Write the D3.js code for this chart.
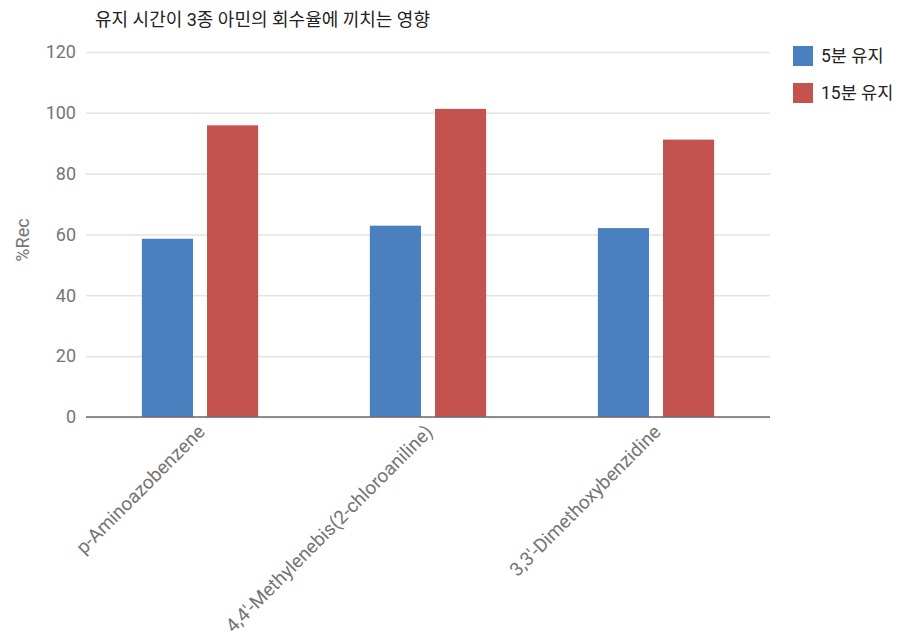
<!DOCTYPE html>
<html>
<head>
<meta charset="utf-8">
<script src="https://cdn.jsdelivr.net/npm/d3@7"></script>
<style>
  body { margin: 0; background: #fff; }
  text { font-family: Roboto, "Noto Sans CJK KR", sans-serif; }
</style>
</head>
<body>
<div id="chart"></div>
<script>
(function(){

var categories = ["p-Aminoazobenzene", "4,4'-Methylenebis(2-chloroaniline)", "3,3'-Dimethoxybenzidine"];
var seriesNames = ["5분 유지", "15분 유지"];
var hold5 = [58.6, 62.9, 62.1];
var hold15 = [95.9, 101.3, 91.2];
var yTicks = [0, 20, 40, 60, 80, 100, 120];
var colors = ["#4a80c0", "#c4524e"];

var margin = {top: 52, right: 136, bottom: 217, left: 86},
    width = 906 - margin.left - margin.right,
    height = 634 - margin.top - margin.bottom;

var x0 = d3.scaleBand().domain(categories).range([0, width])
    .paddingInner(0.49).paddingOuter(0.245);
var x1 = d3.scaleBand().domain([0, 1]).range([0, x0.bandwidth()]).paddingInner(0.2154);
var y = d3.scaleLinear().domain([0, 120]).range([height, 0]);

var svg = d3.select("#chart").append("svg")
    .attr("width", 906)
    .attr("height", 634);

var g = svg.append("g")
    .attr("transform", "translate(" + margin.left + "," + margin.top + ")");

// title
svg.append("text")
    .attr("x", 95).attr("y", 26)
    .style("font-size", "18px")
    .style("fill", "#222")
    .text("유지 시간이 3종 아민의 회수율에 끼치는 영향");

// grid + y ticks
var yAxis = d3.axisLeft(y).tickValues(yTicks).tickSize(-width).tickPadding(10);
var ya = g.append("g").call(yAxis);
ya.select(".domain").remove();
ya.selectAll(".tick line").attr("x1", 0).style("stroke", "#e3e3e3").style("stroke-width", 1.5);
ya.selectAll(".tick text").style("font-size", "18px").style("fill", "#757575");

// bars
var data = categories.map(function(c, i) { return {cat: c, vals: [hold5[i], hold15[i]]}; });
var groups = g.selectAll(".grp").data(data).enter().append("g")
    .attr("transform", function(d) { return "translate(" + x0(d.cat) + ",0)"; });
groups.selectAll("rect").data(function(d) { return d.vals; }).enter().append("rect")
    .attr("x", function(d, i) { return x1(i); })
    .attr("width", x1.bandwidth())
    .attr("y", function(d) { return y(d); })
    .attr("height", function(d) { return height - y(d); })
    .style("fill", function(d, i) { return colors[i]; });

// baseline
g.append("line")
    .attr("x1", 0).attr("x2", width)
    .attr("y1", height).attr("y2", height)
    .style("stroke", "#6b6b6b").style("stroke-width", 1.5);

// x labels
var xAxis = d3.axisBottom(x0).tickSize(0).tickPadding(0);
var xa = g.append("g").attr("transform", "translate(0," + height + ")").call(xAxis);
xa.select(".domain").remove();
xa.selectAll(".tick text")
    .style("font-size", "19px")
    .style("fill", "#757575")
    .attr("text-anchor", "end")
    .attr("dy", 0)
    .attr("transform", "translate(6,16) rotate(-45)");

// y axis title
svg.append("text")
    .attr("transform", "translate(29,240) rotate(-90)")
    .attr("text-anchor", "middle")
    .style("font-size", "18px")
    .style("fill", "#757575")
    .text("%Rec");

// legend
var lg = svg.selectAll(".lg").data(seriesNames).enter().append("g")
    .attr("transform", function(d, i) { return "translate(793," + (46 + i * 37) + ")"; });
lg.append("rect").attr("width", 20).attr("height", 20)
    .style("fill", function(d, i) { return colors[i]; });
lg.append("text").attr("x", 28).attr("y", 16)
    .style("font-size", "17.5px").style("fill", "#222")
    .text(function(d) { return d; });

})();
</script>
</body>
</html>
